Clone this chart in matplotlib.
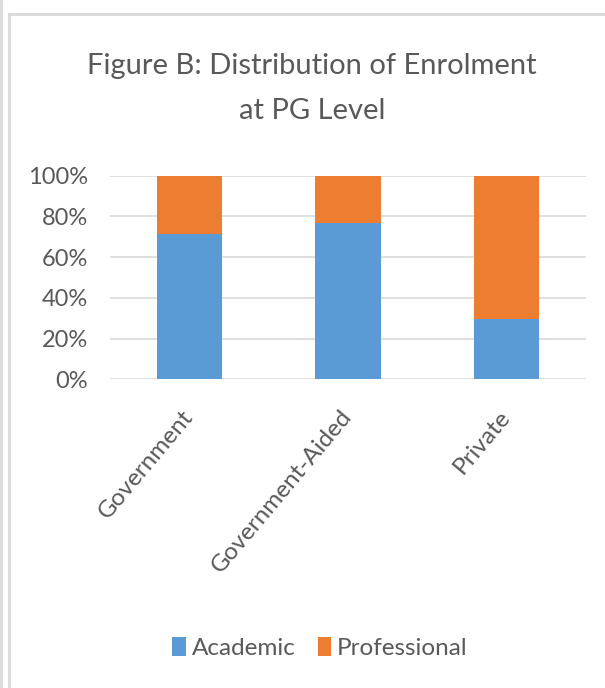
import numpy as np
import matplotlib
matplotlib.use('Agg')
import matplotlib.pyplot as plt
from matplotlib.lines import Line2D
from matplotlib.ticker import PercentFormatter

categories = ['Government', 'Government-Aided', 'Private']
academic = [0.715, 0.77, 0.295]
professional = [0.285, 0.23, 0.705]
yticks = [0, 0.2, 0.4, 0.6, 0.8, 1.0]

plt.rcParams['font.family'] = ['Lato', 'DejaVu Sans']
txt = '#595959'

fig = plt.figure(figsize=(6.05, 6.88), dpi=100)
ax = fig.add_axes([110/605, 1-379.3/688, 476/605, 203.6/688])

x = np.arange(len(categories))
ax.bar(x, academic, width=0.41, color='#5B9BD5', label='Academic', zorder=3)
ax.bar(x, professional, width=0.41, bottom=academic, color='#ED7D31', label='Professional', zorder=3)

ax.set_xlim(-0.5, 2.5)
ax.set_ylim(0, 1)
ax.set_yticks(yticks)
ax.yaxis.set_major_formatter(PercentFormatter(1.0, decimals=0))
ax.grid(axis='y', color='#d9d9d9', linewidth=1.2, zorder=0)
for s in ax.spines.values():
    s.set_visible(False)
ax.tick_params(axis='both', length=0, colors=txt, labelsize=17)
ax.tick_params(axis='y', pad=16)
ax.set_xticks(x)
ax.set_xticklabels(categories, rotation=50, ha='right', va='center', rotation_mode='anchor', fontsize=17.5)
ax.tick_params(axis='x', pad=24)

fig.text(312/605, 1-66/688, 'Figure B: Distribution of Enrolment', ha='center', va='center', fontsize=21, color=txt)
fig.text(312/605, 1-111/688, 'at PG Level', ha='center', va='center', fontsize=21, color=txt)

fig.legend(loc='center', bbox_to_anchor=(320/605, 1-648/688), ncol=2, frameon=False,
           fontsize=17.5, labelcolor=txt, handlelength=0.55, handleheight=0.85,
           handletextpad=0.25, columnspacing=0.9)

# frame of the chart area
fig.add_artist(Line2D([9/605, 9/605], [0, 1-14/688], color='#d9d9d9', linewidth=2, transform=fig.transFigure))
fig.add_artist(Line2D([9/605, 1], [1-14/688, 1-14/688], color='#d9d9d9', linewidth=2, transform=fig.transFigure))
fig.add_artist(Line2D([1/605, 1/605], [0, 1], color='#d9d9d9', linewidth=2, transform=fig.transFigure))

fig.savefig('out.png', dpi=100)
